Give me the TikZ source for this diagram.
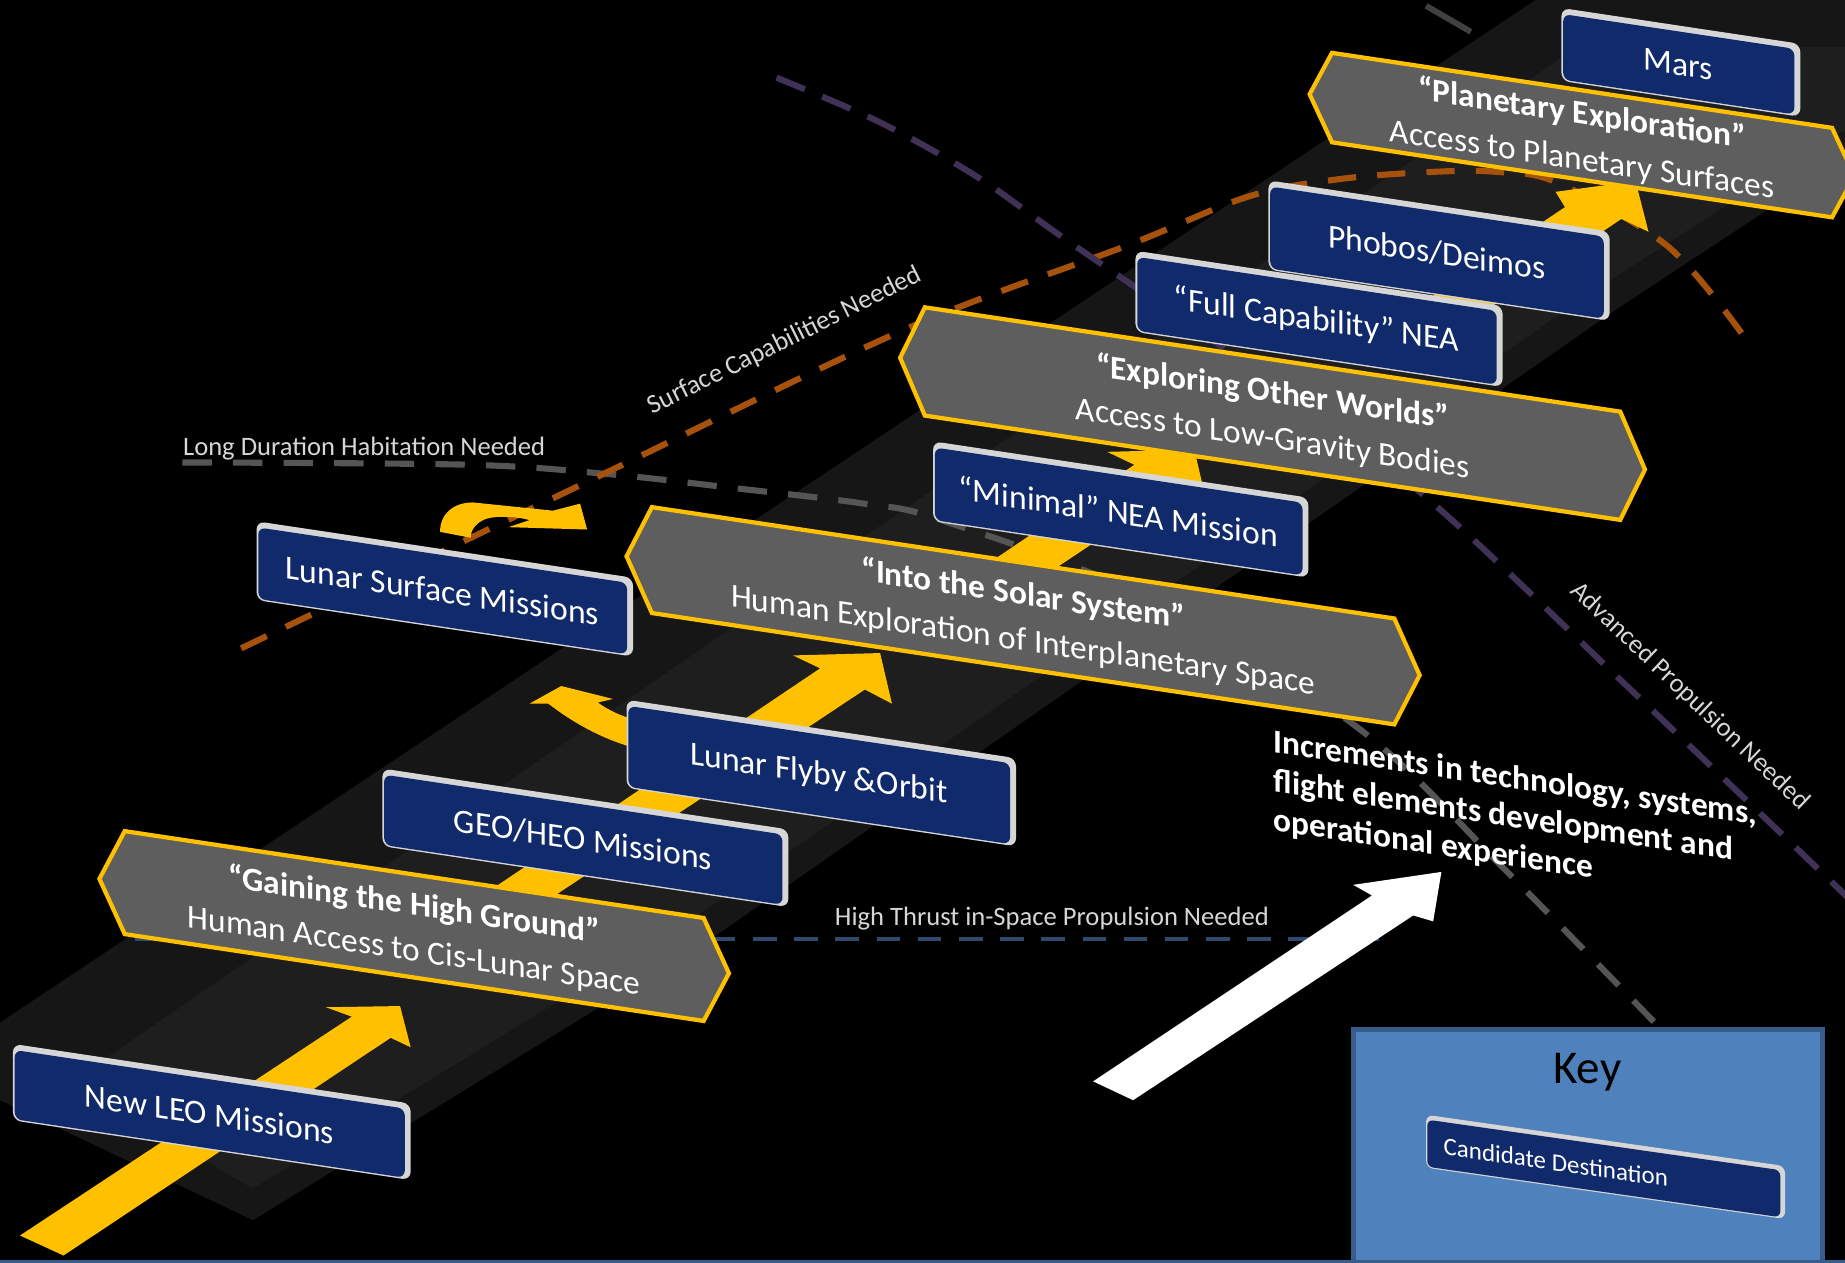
\documentclass[tikz,border=0pt]{standalone}
\usepackage{fontspec}
\setmainfont{Carlito}
\definecolor{boxnavy}{RGB}{16,42,107}
\definecolor{framegray}{RGB}{214,214,214}
\definecolor{bannergray}{RGB}{94,94,94}
\definecolor{gold}{RGB}{255,192,0}
\definecolor{bandgray}{RGB}{22,22,22}
\definecolor{bandlight}{RGB}{30,30,30}
\definecolor{habgray}{RGB}{85,85,85}
\definecolor{surforange}{RGB}{166,82,12}
\definecolor{propurple}{RGB}{64,49,86}
\definecolor{thrustblue}{RGB}{48,74,110}
\definecolor{lblgray}{RGB}{214,214,214}
\definecolor{keyfill}{RGB}{79,129,189}
\definecolor{keyborder}{RGB}{56,93,138}
\tikzset{
  boxtext/.style={text=white, font=\fontsize{14.3}{17}\selectfont, inner sep=0pt},
  bannertext/.style={text=white, font=\fontsize{14.2}{19.5}\selectfont, align=center, inner sep=0pt},
  bannershape/.style={fill=bannergray, draw=gold, line width=1.8pt, line join=miter},
  lbl/.style={text=lblgray, font=\fontsize{11.3}{13}\selectfont, inner sep=0pt},
  cand/.style={text=white, font=\fontsize{10.6}{12}\selectfont, inner sep=0pt},
  incr/.style={text=white, font=\bfseries\fontsize{14.2}{16.6}\selectfont, align=left, inner sep=0pt},
  habline/.style={draw=habgray, line width=2.6pt, dash pattern=on 12.5pt off 9pt},
  surfline/.style={draw=surforange, line width=2.6pt, dash pattern=on 12pt off 9pt},
  propline/.style={draw=propurple, line width=2.6pt, dash pattern=on 13pt off 8pt},
  thrustline/.style={draw=thrustblue, line width=1.8pt, dash pattern=on 10pt off 7.5pt},
  yarrow/.style={fill=gold},
  warrow/.style={fill=white}
}
\newcommand{\destbox}[6]{%
  \begin{scope}[shift={(#2,#3)}, yslant=-0.15]
    \fill[framegray, rounded corners=3.5pt] (-#4/2,-#5/2) rectangle (#4/2,#5/2);
    \fill[boxnavy, rounded corners=3pt] (-#4/2+1.5,-#5/2+5) rectangle (#4/2-5,#5/2-1.2);
    \node[boxtext, transform shape] (#1) at (-2,2) {#6};
  \end{scope}}
\newcommand{\mkbanner}[8]{%
  \begin{scope}[shift={(#2,#3)}, yslant=-0.15]
    \filldraw[bannershape] (-#4-#5,0) -- (-#4,-#6/2) -- (#4,-#6/2) -- (#4+#5,0) -- (#4,#6/2) -- (-#4,#6/2) -- cycle;
    \node[bannertext, transform shape] (#1) at (0,2) {\textbf{#7}\\#8};
  \end{scope}}
\begin{document}
\begin{tikzpicture}[x=0.5pt,y=-0.5pt]
\useasboundingbox (0,0) rectangle (1568,1073);
\clip (0,0) rectangle (1568,1073);
\fill[black] (0,0) rectangle (1568,1073);
% band
\fill[bandgray] (0,869) -- (1305,0) -- (1568,0) -- (1568,135) -- (1375,262) -- (607,796) -- (215,1037) -- (0,935) -- cycle;
\fill[bandlight] (60,920) -- (1340,40) -- (1568,40) -- (1568,110) -- (1350,250) -- (590,780) -- (215,1010) -- cycle;
\draw[line width=2.5pt, draw=black!75] (1212,5) -- (1250,27);
% dashed capability lines
\draw[habline] plot[smooth, tension=0.55] coordinates {(155,393) (400,395) (518,403) (617,414) (734,428) (800,442) (980,510) (1156,620) (1280,740) (1412,875)};
\draw[surfline] plot[smooth, tension=0.55] coordinates {(205,551) (500,409) (769,280) (957,209) (1061,167) (1140,152) (1219,146) (1271,146) (1323,155) (1417,209) (1480,283)};
\draw[propline] plot[smooth, tension=0.55] coordinates {(660,66) (748,104) (830,150) (905,203) (1060,310) (1210,421) (1390,590) (1580,772)};
\draw[thrustline] (115,798) -- (1172,798);
% yellow arrows
\fill[yarrow] (17,1050) -- (299,864) -- (277,856) -- (340,855) -- (349,890) -- (332,882) -- (54,1067) -- cycle;
\fill[yarrow] (352,800) -- (697,568) -- (674,557) -- (748,555) -- (758,598) -- (735,586) -- (413,800) -- cycle;
\fill[yarrow] (742,545) -- (964,395) -- (941,384) -- (1015,382) -- (1025,425) -- (1002,413) -- (804,545) -- cycle;
\fill[yarrow] (1146,300) -- (1330,176) -- (1322,163) -- (1390,154) -- (1401,197) -- (1378,186) -- (1209,300) -- cycle;
\fill[yarrow] (374,452) .. controls (374,436) and (386,427) .. (402,427) -- (470,434) -- (493,428) -- (499,450) -- (432,448) -- (450,442) .. controls (440,439) and (422,438) .. (413,441) .. controls (405,444) and (400,450) .. (400,457) -- cycle;
\fill[yarrow] (450,598) -- (477,583) -- (521,594) -- (508,597) .. controls (518,604) and (528,609) .. (545,613) -- (545,637) .. controls (515,630) and (488,615) .. (466,598) -- cycle;
% white arrow
\fill[warrow] (929,919) -- (1166,761) -- (1150,752) -- (1225,741) -- (1218,783) -- (1201,778) -- (963,935) -- cycle;
% destinations and stages
\destbox{mars}{1428.5}{53}{203}{62}{Mars}
\mkbanner{planetary}{1344.5}{114.8}{212.5}{19}{76}{“Planetary Exploration”}{Access to Planetary Surfaces}
\destbox{phobos}{1223}{213}{290}{76}{Phobos/Deimos}
\destbox{fullcap}{1121}{271}{312}{69}{“Full Capability” NEA}
\mkbanner{exploring}{1081.5}{351.5}{295.5}{21}{92}{“Exploring Other Worlds”}{Access to Low-Gravity Bodies}
\destbox{minimal}{952.5}{433}{319}{68}{“Minimal” NEA Mission}
\mkbanner{solar}{869.5}{523.3}{315.5}{21.5}{90}{“Into the Solar System”}{Human Exploration of Interplanetary Space}
\destbox{lunarsurf}{378}{500.5}{320}{67}{Lunar Surface Missions}
\destbox{flyby}{698}{657}{331}{75}{Lunar Flyby \&Orbit}
\destbox{geoheo}{497.5}{712}{345}{66}{GEO/HEO Missions}
\mkbanner{gaining}{352}{787}{246}{21.5}{87.5}{“Gaining the High Ground”}{Human Access to Cis-Lunar Space}
\destbox{newleo}{180}{945}{338}{65}{New LEO Missions}
% key
\filldraw[fill=keyfill, draw=keyborder, line width=2pt] (1150,875) rectangle (1549,1090);
\node[font=\fontsize{20}{24}\selectfont, text=black, inner sep=0pt] (key) at (1349,911) {Key};
\begin{scope}[shift={(1364.5,991.7)}, yslant=-0.143]
  \fill[framegray, rounded corners=3pt] (-152.5,-22.5) rectangle (152.5,22.5);
  \fill[boxnavy, rounded corners=2.5pt] (-151.5,-18.5) rectangle (148.5,21.5);
  \node[cand, transform shape, anchor=west] (cand) at (-138,2) {Candidate Destination};
\end{scope}
\draw[keyborder, line width=1.5pt] (0,1072) -- (1568,1072);
% labels
\node[lbl] (ldh) at (309.5,381) {Long Duration Habitation Needed};
\node[lbl, rotate=26.4] (scn) at (667,290) {Surface Capabilities Needed};
\node[lbl, rotate=-43.5] (apn) at (1436,592) {Advanced Propulsion Needed};
\node[lbl] (htp) at (894,781) {High Thrust in-Space Propulsion Needed};
\begin{scope}[shift={(1082,619)}, yslant=-0.15]
  \node[incr, transform shape, anchor=north west] (incr) at (0,0) {Increments in technology, systems,\\flight elements development and\\operational experience};
\end{scope}
\end{tikzpicture}
\end{document}
